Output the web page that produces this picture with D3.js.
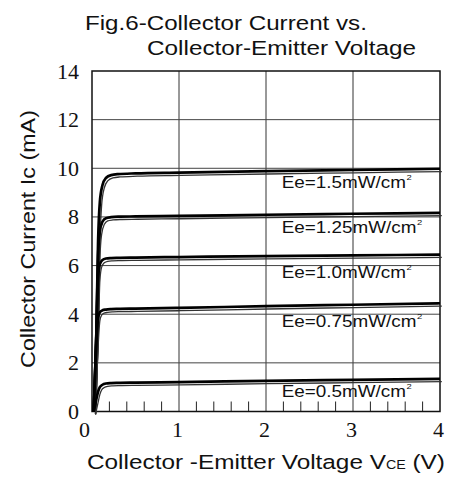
<!DOCTYPE html>
<html><head><meta charset="utf-8">
<script src="https://cdn.jsdelivr.net/npm/d3@7"></script>
<style>body{margin:0;background:#fff}svg{display:block}</style>
</head><body>
<script>
// ---- data ----
const voltage = [0.02, 0.05, 0.07, 0.09, 0.12, 0.16, 0.22, 0.3, 0.5, 1, 2, 3, 4];
const irradiance = ["1.5", "1.25", "1.0", "0.75", "0.5"];
const current_1_5  = [0, 3.2, 7.0, 8.6, 9.3, 9.6, 9.72, 9.76, 9.79, 9.82, 9.88, 9.93, 9.98];
const current_1_25 = [0, 3.2, 6.4, 7.4, 7.8, 7.95, 7.99, 8.01, 8.02, 8.04, 8.09, 8.13, 8.17];
const current_1_0  = [0, 3.1, 5.5, 6.05, 6.23, 6.29, 6.31, 6.32, 6.33, 6.35, 6.39, 6.42, 6.45];
const current_0_75 = [0, 2.8, 3.85, 4.08, 4.16, 4.19, 4.21, 4.22, 4.23, 4.26, 4.33, 4.39, 4.45];
const current_0_5  = [0, 0.5, 0.82, 1.0, 1.1, 1.15, 1.17, 1.18, 1.19, 1.21, 1.26, 1.3, 1.34];
const xTickValues = [0, 1, 2, 3, 4];
const yTickValues = [0, 2, 4, 6, 8, 10, 12, 14];
const xMinorTicks = [0.2,0.4,0.6,0.8,1.2,1.4,1.6,1.8,2.2,2.4,2.6,2.8,3.2,3.4,3.6,3.8];
const titleLines = ["Fig.6-Collector Current vs.", "Collector-Emitter Voltage"];
const yTitle = "Collector Current Ic (mA)";

const series = [current_1_5, current_1_25, current_1_0, current_0_75, current_0_5];

// ---- drawing ----
const W = 450, H = 478;
const sans = "'Liberation Sans', Arial, Helvetica, sans-serif";
const serif = "'Liberation Serif', 'Times New Roman', serif";
const svg = d3.select("body").append("svg").attr("width", W).attr("height", H);

const x = d3.scaleLinear().domain([0, 4]).range([92, 440]);
const y = d3.scaleLinear().domain([0, 14]).range([411.5, 71]);

function fitText(x0, y0, build, target) {
  const g = svg.append("g");
  const t = build(g);
  const w = t.node().getBBox().width;
  g.attr("transform", `translate(${x0},${y0}) scale(${target / w},1)`);
  return g;
}

// gridlines
svg.append("g").selectAll("line").data(xTickValues.slice(1, -1)).join("line")
  .attr("x1", d => x(d)).attr("x2", d => x(d)).attr("y1", y(0)).attr("y2", y(14))
  .attr("stroke", "#333").attr("stroke-width", 1);
svg.append("g").selectAll("line").data(yTickValues.slice(1, -1)).join("line")
  .attr("y1", d => y(d)).attr("y2", d => y(d)).attr("x1", x(0)).attr("x2", x(4))
  .attr("stroke", "#444").attr("stroke-width", 1);

// minor ticks
svg.append("g").selectAll("line").data(xMinorTicks).join("line")
  .attr("x1", d => x(d)).attr("x2", d => x(d)).attr("y1", y(0)).attr("y2", y(0) - 10)
  .attr("stroke", "#222").attr("stroke-width", 1);

// frame
svg.append("rect").attr("x", x(0)).attr("y", y(14))
  .attr("width", x(4) - x(0)).attr("height", y(0) - y(14))
  .attr("fill", "none").attr("stroke", "#111").attr("stroke-width", 1.5);

// axes labels
const xAxis = svg.append("g").attr("transform", `translate(0,${y(0)})`)
  .call(d3.axisBottom(x).tickValues(xTickValues).tickSize(0).tickPadding(10).tickFormat(d3.format("d")));
xAxis.select(".domain").remove();
xAxis.attr("font-family", serif).attr("font-size", 22);
xAxis.selectAll("text").style("font-family", serif).style("font-size", "22px").attr("fill", "#111")
  .attr("dx", d => d === 0 ? -8 : -2);

const yAxis = svg.append("g").attr("transform", `translate(${x(0)},0)`)
  .call(d3.axisLeft(y).tickValues(yTickValues).tickSize(0).tickPadding(13).tickFormat(d3.format("d")));
yAxis.select(".domain").remove();
yAxis.attr("font-family", serif).attr("font-size", 22);
yAxis.selectAll("text").style("font-family", serif).style("font-size", "22px").attr("fill", "#111");

// curves
const line = d3.line().x((d, i) => x(voltage[i])).y(d => y(d)).curve(d3.curveMonotoneX);
const curves = svg.append("g");
series.forEach(s => {
  curves.append("path").attr("d", line(s)).attr("fill", "none")
    .attr("stroke", "#333").attr("stroke-width", 1.3).attr("transform", "translate(1.8,2.8)");
  curves.append("path").attr("d", line(s)).attr("fill", "none")
    .attr("stroke", "#000").attr("stroke-width", 2.7);
});

// curve labels
const labelV = 2.18;
const labelDy = [17, 18, 22, 21, 16];
series.forEach((s, i) => {
  const interp = d3.scaleLinear().domain(voltage).range(s);
  const ly = y(interp(labelV)) + labelDy[i];
  const g = svg.append("g").attr("transform", `translate(${x(labelV)},${ly}) scale(1.18,1)`);
  const t = g.append("text").attr("font-family", sans).attr("font-size", 16).attr("fill", "#111");
  t.append("tspan").text("Ee=" + irradiance[i] + "mW/cm");
  t.append("tspan").text("2").attr("font-size", 8).attr("dy", -8).attr("dx", 0.5);
});

// titles
fitText(85, 30, g => g.append("text").attr("font-family", sans).attr("font-size", 21).attr("fill", "#111").text(titleLines[0]), 282);
fitText(147, 55, g => g.append("text").attr("font-family", sans).attr("font-size", 21).attr("fill", "#111").text(titleLines[1]), 269);

// x title
fitText(87, 469, g => {
  const t = g.append("text").attr("font-family", sans).attr("font-size", 20.5).attr("fill", "#111");
  t.append("tspan").text("Collector -Emitter Voltage V");
  t.append("tspan").text("CE").attr("font-size", 12);
  t.append("tspan").text(" (V)");
  return t;
}, 358);

// y title
{
  const g = svg.append("g");
  const t = g.append("text").attr("font-family", sans).attr("font-size", 21).attr("fill", "#111")
    .attr("text-anchor", "middle").text(yTitle);
  const w = t.node().getBBox().width;
  g.attr("transform", `translate(35,239) rotate(-90) scale(${258 / w},1)`);
}
</script>
</body></html>
